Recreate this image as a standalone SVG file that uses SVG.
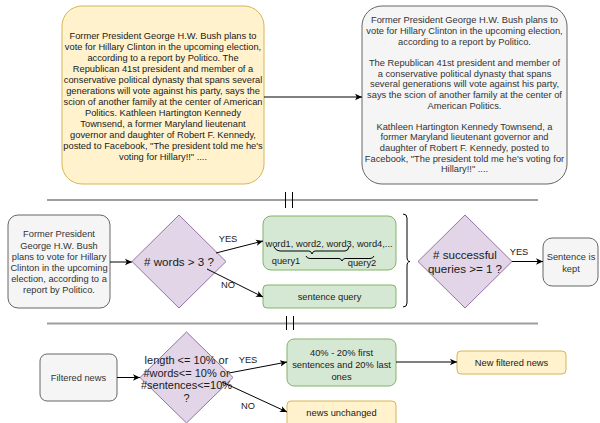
<svg xmlns="http://www.w3.org/2000/svg" width="600" height="423" viewBox="0 0 600 423">
<defs>
<marker id="arr" markerWidth="8" markerHeight="8" refX="7" refY="4" orient="auto" markerUnits="userSpaceOnUse">
<path d="M0,0.8 L7,4 L0,7.2 L1.8,4 Z" fill="#000"/>
</marker>
<style>
text{font-family:"Liberation Sans",Arial,sans-serif;font-size:9.3px;fill:#1a1a1a;text-anchor:middle}
.g{fill:#333333}
.yel{fill:#fff2cc;stroke:#d6b656;stroke-width:1}
.gry{fill:#f5f5f5;stroke:#666666;stroke-width:1}
.grn{fill:#d5e8d4;stroke:#82b366;stroke-width:1}
.pur{fill:#e1d5e7;stroke:#9673a6;stroke-width:1}
.ln{fill:none;stroke:#000;stroke-width:1}
.arrow{fill:none;stroke:#000;stroke-width:1;marker-end:url(#arr)}
.sep{stroke:#9e9e9e;stroke-width:2}
.big{font-size:11.6px}
.mid{font-size:11px}
</style>
</defs>

<g id="news-original">
<rect class="yel" x="62" y="6" width="202" height="178" rx="20"/>
<text x="163" y="38.5">Former President George H.W. Bush plans to</text>
<text x="163" y="49.5">vote for Hillary Clinton in the upcoming election,</text>
<text x="163" y="60.5">according to a report by Politico. The</text>
<text x="163" y="71.5">Republican 41st president and member of a</text>
<text x="163" y="82.5">conservative political dynasty that spans several</text>
<text x="163" y="93.5">generations will vote against his party, says the</text>
<text x="163" y="104.5">scion of another family at the center of American</text>
<text x="163" y="115.5">Politics. Kathleen Hartington Kennedy</text>
<text x="163" y="126.5">Townsend, a former Maryland lieutenant</text>
<text x="163" y="137.5">governor and daughter of Robert F. Kennedy,</text>
<text x="163" y="148.5">posted to Facebook, "The president told me he's</text>
<text x="163" y="159.5">voting for Hillary!!" ....</text>
</g>

<g id="news-split">
<rect class="gry" x="362" y="6" width="205" height="178" rx="20"/>
<text class="g" x="464.5" y="23.3">Former President George H.W. Bush plans to</text>
<text class="g" x="464.5" y="34">vote for Hillary Clinton in the upcoming election,</text>
<text class="g" x="464.5" y="44.6">according to a report by Politico.</text>
<text class="g" x="464.5" y="65.9">The Republican 41st president and member of</text>
<text class="g" x="464.5" y="76.5">a conservative political dynasty that spans</text>
<text class="g" x="464.5" y="87.2">several generations will vote against his party,</text>
<text class="g" x="464.5" y="97.8">says the scion of another family at the center of</text>
<text class="g" x="464.5" y="108.5">American Politics.</text>
<text class="g" x="464.5" y="129.8">Kathleen Hartington Kennedy Townsend, a</text>
<text class="g" x="464.5" y="140.4">former Maryland lieutenant governor and</text>
<text class="g" x="464.5" y="151.1">daughter of Robert F. Kennedy, posted to</text>
<text class="g" x="464.5" y="161.7">Facebook, "The president told me he's voting for</text>
<text class="g" x="464.5" y="172.4">Hillary!!" ....</text>
</g>

<g id="separators">
<line class="sep" x1="47" y1="200" x2="538" y2="200"/>
<line class="ln" x1="285.5" y1="192" x2="285.5" y2="208"/>
<line class="ln" x1="292.5" y1="192" x2="292.5" y2="208"/>
<line class="sep" x1="47" y1="323.5" x2="538" y2="323.5"/>
<line class="ln" x1="286.5" y1="316" x2="286.5" y2="330"/>
<line class="ln" x1="293.5" y1="316" x2="293.5" y2="330"/>
</g>

<g id="sentence">
<rect class="gry" x="8" y="215" width="102" height="93" rx="10"/>
<text class="g" x="59" y="237.3">Former President</text>
<text class="g" x="59" y="248.5">George H.W. Bush</text>
<text class="g" x="59" y="259.7">plans to vote for Hillary</text>
<text class="g" x="59" y="270.9">Clinton in the upcoming</text>
<text class="g" x="59" y="282.1">election, according to a</text>
<text class="g" x="59" y="293.3">report by Politico.</text>
</g>

<g id="words-decision">
<polygon class="pur" points="179,215 226,261.5 179,308 132,261.5"/>
<text class="big" x="179" y="265.5"># words &gt; 3 ?</text>
</g>

<g id="word-queries">
<rect class="grn" x="263" y="216" width="133" height="54" rx="8"/>
<text x="329" y="246.5">word1, word2, word3, word4,...</text>
<text x="286" y="263.5">query1</text>
<text x="362" y="265.5">query2</text>
<path class="ln" d="M274,247 Q276,251 280,251 L309,251 Q311,251 312,254 Q313,251 315,251 L345,251 Q348,251 349,247"/>
<path class="ln" d="M306,256 Q307,258.5 310,258.5 L339,258.5 Q341,258.5 342,261 Q343,258.5 345,258.5 L370,258.5 Q373,258.5 374,256"/>
</g>

<g id="sentence-query">
<rect class="grn" x="263" y="285" width="133" height="23" rx="4"/>
<text x="329.5" y="300">sentence query</text>
</g>

<g id="group-brace">
<path class="ln" d="M403,214 Q407,214 407,218 L407,257 Q407,261.5 410,261.5 Q407,261.5 407,266 L407,303 Q407,307 403,307"/>
</g>

<g id="success-decision">
<polygon class="pur" points="465,215 512,261.5 465,308 418,261.5"/>
<text class="big" x="465" y="259"># successful</text>
<text class="big" x="465" y="273">queries &gt;= 1 ?</text>
</g>

<g id="kept">
<rect class="gry" x="543" y="238" width="55" height="48" rx="9"/>
<text class="g" x="571" y="259.5">Sentence is</text>
<text class="g" x="571" y="271.5">kept</text>
</g>

<g id="filtered-news">
<rect class="gry" x="40" y="354" width="77" height="47" rx="7"/>
<text class="g" x="78.5" y="381">Filtered news</text>
</g>

<g id="length-decision">
<polygon class="pur" points="186.5,332 233,377.5 186.5,423 140,377.5"/>
<text class="mid" x="186.5" y="364">length &lt;= 10% or</text>
<text class="mid" x="186.5" y="376.5">#words&lt;= 10% or</text>
<text class="mid" x="186.5" y="389">#sentences&lt;=10%</text>
<text class="mid" x="186.5" y="401.5">?</text>
</g>

<g id="reduce">
<rect class="grn" x="287" y="339" width="109" height="47" rx="7"/>
<text x="341.5" y="355.5">40% - 20% first</text>
<text x="341.5" y="367.5">sentences and 20% last</text>
<text x="341.5" y="379.5">ones</text>
</g>

<g id="new-filtered">
<rect class="yel" x="457" y="351" width="109" height="23" rx="4"/>
<text x="511.5" y="366">New filtered news</text>
</g>

<g id="unchanged">
<rect class="yel" x="287" y="401" width="109" height="30" rx="4"/>
<text x="341.5" y="416">news unchanged</text>
</g>

<g id="connectors">
<line class="arrow" x1="264" y1="97" x2="362" y2="97"/>
<line class="arrow" x1="110" y1="262" x2="132" y2="262"/>
<line class="arrow" x1="216" y1="253" x2="263" y2="241"/>
<line class="arrow" x1="207" y1="269" x2="263" y2="297"/>
<line class="arrow" x1="512" y1="261.5" x2="543" y2="261.5"/>
<line class="arrow" x1="117" y1="377.5" x2="140" y2="377.5"/>
<line class="arrow" x1="229" y1="373" x2="287" y2="362"/>
<line class="arrow" x1="222" y1="382" x2="287" y2="412"/>
<line class="arrow" x1="396" y1="362" x2="457" y2="362"/>
<text x="228" y="241.5">YES</text>
<text x="228" y="288">NO</text>
<text x="519" y="255">YES</text>
<text x="248" y="362.5">YES</text>
<text x="248" y="408.5">NO</text>
</g>
</svg>
